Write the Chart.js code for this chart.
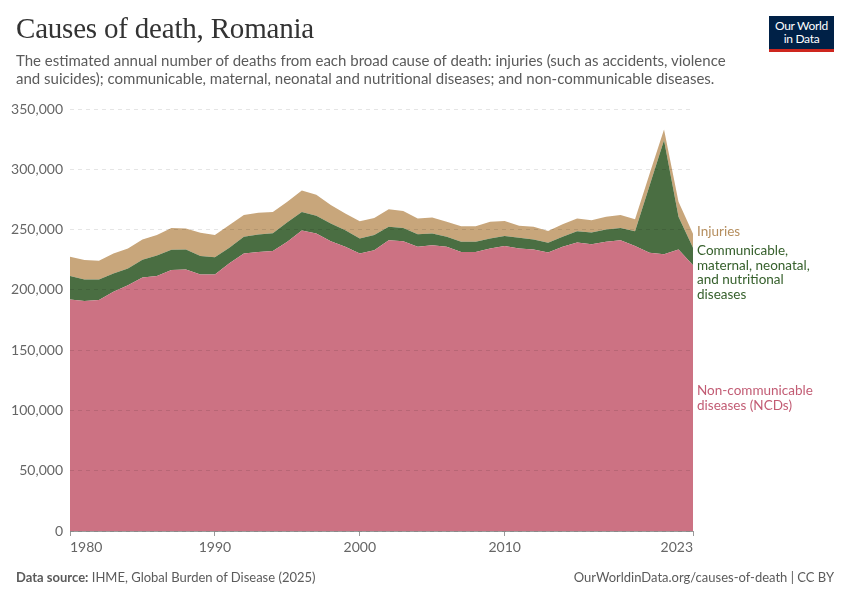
<!DOCTYPE html>
<html>
<head>
<meta charset="utf-8">
<script src="https://cdn.jsdelivr.net/npm/chart.js@4.4.1/dist/chart.umd.min.js"></script>
<style>
  html, body { margin: 0; padding: 0; background: #fff; }
  #wrap { position: relative; width: 850px; height: 600px; overflow: hidden; font-family: Lato, "Noto Sans", sans-serif; }
  #grafico { position: absolute; left: 0; top: 0; }
  .titulo { position: absolute; left: 16px; top: 12px; font-family: "Liberation Serif", "DejaVu Serif", serif; font-size: 29px; color: #333; letter-spacing: -0.2px; }
  .subtitulo { position: absolute; left: 16px; top: 51px; width: 712px; font-size: 15px; line-height: 18px; color: #5b5b5b; }
  .logo { position: absolute; left: 769px; top: 16px; width: 65px; background: #002147; border-bottom: 3px solid #ce261e; color: #fff; font-size: 12px; line-height: 13px; text-align: center; padding-top: 3px; box-sizing: content-box; height: 30px; letter-spacing: -0.3px; }
  .pie { position: absolute; top: 569px; font-size: 13px; color: #5b5b5b; }
</style>
</head>
<body>
<div id="wrap">
  <canvas id="grafico" width="850" height="600"></canvas>
  <div class="titulo">Causes of death, Romania</div>
  <div class="subtitulo">The estimated annual number of deaths from each broad cause of death: injuries (such as accidents, violence and suicides); communicable, maternal, neonatal and nutritional diseases; and non-communicable diseases.</div>
  <div class="logo">Our World<br>in Data</div>
  <div class="pie" style="left:16px"><b>Data source:</b> IHME, Global Burden of Disease (2025)</div>
  <div class="pie" style="right:16px">OurWorldinData.org/causes-of-death | CC BY</div>
</div>
<script>
// datos (muertes anuales)
const anios = [1980, 1981, 1982, 1983, 1984, 1985, 1986, 1987, 1988, 1989,
  1990, 1991, 1992, 1993, 1994, 1995, 1996, 1997, 1998, 1999,
  2000, 2001, 2002, 2003, 2004, 2005, 2006, 2007, 2008, 2009,
  2010, 2011, 2012, 2013, 2014, 2015, 2016, 2017, 2018, 2019,
  2020, 2021, 2022, 2023];

const noTransmisibles = [192100, 190700, 191500, 198400, 203900, 210300, 211500, 216400, 216900, 212800,
  212800, 222000, 230200, 231500, 232200, 240000, 249200, 246800, 240400, 235700,
  230200, 232900, 241200, 240400, 235700, 237100, 235700, 231500, 231500, 234400,
  236300, 234400, 233500, 231000, 235700, 239300, 237900, 239800, 241200, 236300,
  230700, 229600, 233500, 220500];

const transmisibles = [19300, 17900, 17100, 15200, 13900, 14700, 17000, 16900, 16600, 15200,
  14200, 13000, 13800, 14500, 14800, 16000, 15300, 14700, 14700, 13800,
  12400, 12500, 11100, 11000, 10500, 9700, 8300, 8300, 8300, 8200,
  8300, 8800, 8300, 8000, 8300, 9400, 9700, 10300, 10200, 12400,
  55600, 94500, 27100, 14500];

const lesiones = [16000, 16100, 15500, 16600, 16600, 16800, 17000, 18100, 17400, 19300,
  18400, 18700, 18000, 18000, 17500, 17000, 18000, 17300, 15200, 13900,
  14400, 14300, 14600, 13900, 13000, 13300, 12400, 13000, 13000, 13800,
  12600, 10000, 10500, 9900, 10500, 10500, 10200, 10500, 10600, 9900,
  9700, 8900, 12400, 11500];

const ticksX = [1980, 1990, 2000, 2010, 2023];

const puntos = arr => anios.map((a, i) => ({ x: a, y: arr[i] }));

// etiquetas a la derecha del grafico
const etiquetasFinales = {
    id: 'etiquetasFinales',
    afterDraw(chart) {
        const { ctx, scales: { y }, chartArea } = chart;
        const n = anios.length - 1;
        const x = chartArea.right + 4;
        const topeLesiones = noTransmisibles[n] + transmisibles[n] + lesiones[n];
        const yLes = y.getPixelForValue(topeLesiones) - 2;
        const yNcd = y.getPixelForValue(noTransmisibles[n] / 2);
        ctx.save();
        ctx.font = '13.5px Lato, sans-serif';
        ctx.textBaseline = 'middle';
        ctx.textAlign = 'left';
        ctx.fillStyle = '#b58e5e';
        ctx.fillText('Injuries', x, yLes);
        ctx.fillStyle = '#36602c';
        ['Communicable,', 'maternal, neonatal,', 'and nutritional', 'diseases'].forEach((t, i) => {
            ctx.fillText(t, x, yLes + 19 + i * 14.5);
        });
        ctx.fillStyle = '#c25c74';
        ctx.fillText('Non-communicable', x, yNcd - 7);
        ctx.fillText('diseases (NCDs)', x, yNcd + 8);
        ctx.restore();
    }
};

const grafico = new Chart(document.getElementById('grafico').getContext('2d'), {
    type: 'line',
    data: {
        datasets: [{
            label: 'Non-communicable diseases (NCDs)',
            data: puntos(noTransmisibles),
            backgroundColor: '#cc7283',
            borderWidth: 0,
            pointRadius: 0,
            fill: 'origin'
        }, {
            label: 'Communicable, maternal, neonatal, and nutritional diseases',
            data: puntos(transmisibles),
            backgroundColor: '#4a6e42',
            borderWidth: 0,
            pointRadius: 0,
            fill: '-1'
        }, {
            label: 'Injuries',
            data: puntos(lesiones),
            backgroundColor: '#c8a67b',
            borderWidth: 0,
            pointRadius: 0,
            fill: '-1'
        }]
    },
    options: {
        responsive: false,
        animation: false,
        events: [],
        layout: {
            padding: { left: 0, top: 109, right: 157, bottom: 0 }
        },
        plugins: {
            legend: { display: false },
            tooltip: { enabled: false }
        },
        scales: {
            x: {
                type: 'linear',
                min: 1980,
                max: 2023,
                afterBuildTicks: s => { s.ticks = ticksX.map(v => ({ value: v })); },
                afterFit: s => { s.height = 69; },
                grid: {
                    drawOnChartArea: false,
                    drawTicks: true,
                    tickLength: 5,
                    color: '#999'
                },
                border: { display: true, color: '#999' },
                ticks: {
                    align: 'inner',
                    color: '#666',
                    padding: 3,
                    font: { family: 'Lato', size: 14 },
                    maxRotation: 0,
                    callback: v => String(v)
                }
            },
            y: {
                stacked: true,
                min: 0,
                max: 350000,
                afterFit: s => { s.width = 70; },
                grid: {
                    color: 'rgba(0, 0, 0, 0.1)',
                    drawTicks: false,
                    z: 1
                },
                border: { display: false, dash: [4, 4] },
                ticks: {
                    stepSize: 50000,
                    color: '#666',
                    padding: 7,
                    font: { family: 'Lato', size: 14 },
                    callback: v => v.toLocaleString('en-US')
                }
            }
        }
    },
    plugins: [etiquetasFinales]
});
</script>
</body>
</html>
